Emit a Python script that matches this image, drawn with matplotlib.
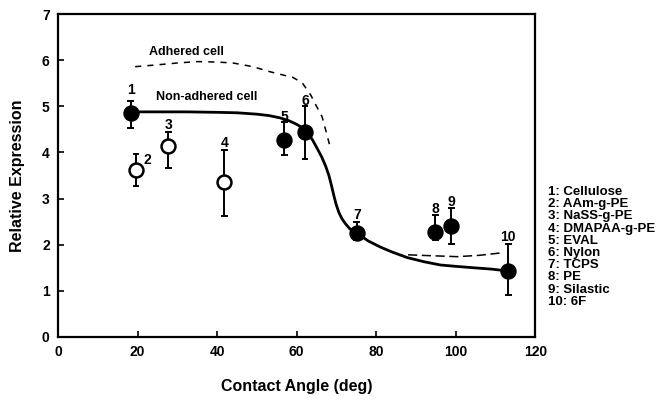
import matplotlib
matplotlib.use("Agg")
import matplotlib.pyplot as plt

plt.rcParams["font.family"] = ["Liberation Sans", "DejaVu Sans"]

# 測定点（接触角, 相対発現量, 誤差の上端, 下端）
labels = ["1", "2", "3", "4", "5", "6", "7", "8", "9", "10"]
angle = [18.3, 19.6, 27.7, 41.8, 56.9, 62.1, 75.1, 94.8, 98.9, 113.2]
expr = [4.86, 3.62, 4.14, 3.36, 4.27, 4.45, 2.26, 2.28, 2.41, 1.43]
err_hi = [5.12, 3.97, 4.45, 4.06, 4.66, 5.01, 2.49, 2.65, 2.80, 2.02]
err_lo = [4.53, 3.28, 3.66, 2.62, 3.95, 3.86, 2.10, 2.10, 2.02, 0.91]
hollow = [False, True, True, True, False, False, False, False, False, False]
materials = ["Cellulose", "AAm-g-PE", "NaSS-g-PE", "DMAPAA-g-PE", "EVAL",
             "Nylon", "TCPS", "PE", "Silastic", "6F"]

# 非接着細胞（実線）
non_x = [18.1, 25.0, 32.5, 40.0, 45.0, 50.0, 53.0, 55.8, 58.0, 60.0, 61.5,
         62.8, 64.0, 65.2, 66.3, 67.3, 68.1, 68.7, 69.3, 69.9, 70.6, 71.4,
         72.3, 73.3, 74.2, 75.1, 76.5, 78.0, 81.0, 84.0, 87.8, 92.0, 96.1,
         100.0, 104.4, 109.0, 113.0]
non_y = [4.88, 4.88, 4.88, 4.87, 4.86, 4.83, 4.80, 4.75, 4.69, 4.61, 4.53,
         4.42, 4.27, 4.08, 3.90, 3.70, 3.50, 3.30, 3.08, 2.88, 2.70, 2.56,
         2.45, 2.35, 2.29, 2.25, 2.17, 2.08, 1.95, 1.84, 1.72, 1.63, 1.56,
         1.53, 1.50, 1.47, 1.43]

# 接着細胞（破線）
adh_x = [19.4, 25.0, 30.0, 35.0, 40.0, 44.0, 49.0, 53.3, 57.0, 59.0, 61.4,
         63.5, 65.0, 66.4, 67.4, 68.4]
adh_y = [5.86, 5.90, 5.94, 5.97, 5.96, 5.94, 5.86, 5.75, 5.67, 5.63, 5.51,
         5.25, 5.00, 4.77, 4.45, 4.12]
adh2_x = [88.0, 94.0, 100.4, 106.0, 111.2]
adh2_y = [1.78, 1.76, 1.74, 1.77, 1.82]

fig = plt.figure(figsize=(6.64, 4.03), dpi=100)
ax = fig.add_axes([0.0873, 0.164, 0.719, 0.801])

ax.plot(non_x, non_y, color="black", lw=2.0, zorder=2,
        solid_joinstyle="round")
ax.plot(adh_x, adh_y, color="black", lw=1.1, ls=(0, (4, 4)), zorder=2)
ax.plot(adh2_x, adh2_y, color="black", lw=1.1, ls=(0, (6, 3)), zorder=2)

for i in range(len(angle)):
    ax.plot([angle[i], angle[i]], [err_lo[i], err_hi[i]], color="black",
            lw=1.4, zorder=3)
    for yy in (err_lo[i], err_hi[i]):
        ax.plot([angle[i] - 0.6, angle[i] + 0.6], [yy, yy], color="black",
                lw=1.4, zorder=3)
    ax.plot(angle[i], expr[i], marker="o", ms=10, mew=1.8, mec="black",
            mfc="white" if hollow[i] else "black", zorder=4)

# 点番号
lab_dx = [0, 2.8, 0, 0, 0, 0, 0, 0, 0, 0]
lab_dy = [0.5, 0.22, 0.45, 0.85, 0.5, 0.67, 0.38, 0.5, 0.52, 0.73]
for i in range(len(angle)):
    ax.text(angle[i] + lab_dx[i], expr[i] + lab_dy[i], labels[i],
            ha="center", va="center", fontsize=10, fontweight="bold")

ax.text(32.2, 6.17, "Adhered cell", ha="center", va="center", fontsize=9,
        fontweight="bold")
ax.text(37.5, 5.2, "Non-adhered cell", ha="center", va="center", fontsize=9,
        fontweight="bold")

# 右側の材料一覧
legend_lines = [f"{labels[i]}: {materials[i]}" for i in range(len(labels))]
for i, line in enumerate(legend_lines):
    fig.text(0.826, 1 - (192 + i * 12.2) / 403, line, ha="left", va="center",
             fontsize=9.5, fontweight="bold")

ax.set_xlim(0, 120)
ax.set_ylim(0, 7)
ax.set_xticks([0, 20, 40, 60, 80, 100, 120])
ax.set_yticks(range(8))
ax.tick_params(direction="in", length=4, width=1.2, labelsize=10, pad=6)
for lab in ax.get_xticklabels() + ax.get_yticklabels():
    lab.set_fontweight("bold")
for sp in ax.spines.values():
    sp.set_linewidth(1.6)

ax.set_xlabel("Contact Angle (deg)", fontsize=11.5, fontweight="bold",
              labelpad=14)
ax.set_ylabel("Relative Expression", fontsize=11.5, fontweight="bold",
              labelpad=12)

fig.savefig("out.png", dpi=100)
